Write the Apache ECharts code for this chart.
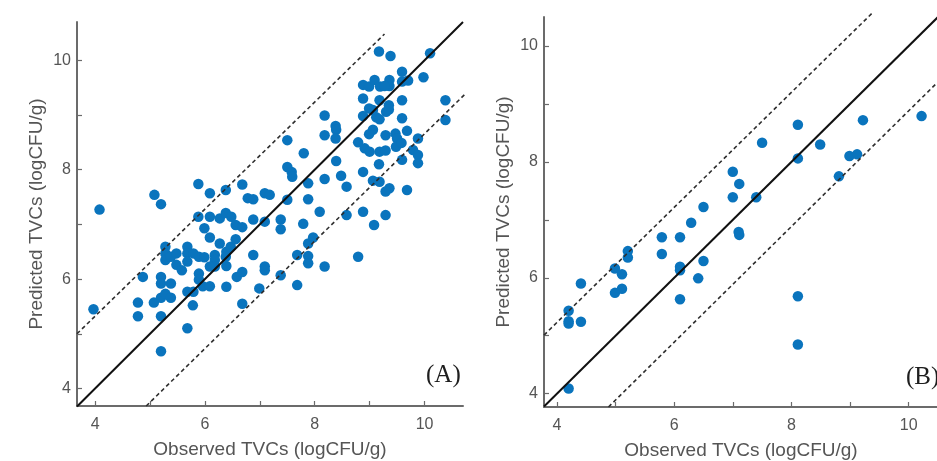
<!DOCTYPE html>
<html>
<head>
<meta charset="utf-8">
<script src="https://cdn.jsdelivr.net/npm/echarts@6/dist/echarts.min.js"></script>
<style>
  html, body { margin: 0; padding: 0; background: #ffffff; }
  #chart { width: 937px; height: 461px; }
</style>
</head>
<body>
<div id="chart"></div>
<script>
// Panel A: calibration set, observed vs predicted TVCs (logCFU/g)
const obsA = [
  3.97, 4.08, 4.78, 4.78, 4.87, 5.08, 5.20, 5.07, 5.20, 5.28,
  5.38, 5.20, 5.20, 5.20, 5.20, 5.38, 5.28, 5.28, 5.28, 5.38,
  5.48, 5.48, 5.58, 5.68, 5.68, 5.68, 5.79, 5.89, 5.68, 5.79,
  5.78, 5.68, 5.88, 5.88, 5.89, 5.89, 5.99, 5.99, 5.96, 6.09,
  6.09, 6.09, 6.09, 6.18, 6.18, 6.18, 6.27, 6.27, 6.38, 6.38,
  6.48, 6.39, 6.47, 6.38, 6.39, 6.39, 6.56, 6.68, 6.56, 6.58,
  6.68, 6.68, 6.68, 6.78, 6.88, 6.88, 6.88, 6.99, 7.09, 7.18,
  7.09, 7.09, 7.09, 7.38, 7.38, 7.38, 7.50, 7.50, 7.58, 7.59,
  7.50, 7.68, 7.68, 7.80, 7.79, 7.88, 7.88, 7.88, 7.97, 7.88,
  7.88, 8.09, 8.18, 8.18, 8.18, 8.18, 8.38, 8.39, 8.38, 8.39,
  8.48, 8.58, 8.58, 8.79, 8.91, 9.00, 8.79, 8.88, 8.99, 9.09,
  9.19, 9.36, 9.36, 9.59, 9.70, 9.17, 9.38, 10.10, 9.59, 9.98,
  8.88, 9.18, 9.59, 10.38, 8.99, 9.06, 9.35, 9.35, 9.30, 8.88,
  9.12, 9.18, 9.59, 10.38, 9.06, 8.99, 9.29, 9.47, 9.50, 9.68,
  9.88, 9.18, 9.29, 9.48, 9.58, 9.79, 9.88, 9.88, 9.59, 9.17,
  8.88, 9.06, 9.18, 9.36, 9.29, 9.68, 8.88, 9.29, 9.08, 9.27,
  6.09
];
const predA = [
  5.45, 7.27, 5.57, 5.32, 6.04, 7.54, 7.37, 5.57, 5.66, 5.73,
  5.66, 5.32, 4.68, 6.04, 5.92, 5.92, 6.59, 6.47, 6.35, 6.41,
  6.47, 6.26, 6.16, 6.59, 6.47, 6.32, 6.47, 6.41, 5.77, 5.77,
  5.52, 5.10, 7.74, 7.14, 6.10, 5.99, 6.93, 6.40, 5.87, 5.87,
  7.57, 7.14, 6.76, 6.44, 6.35, 6.23, 7.11, 6.65, 7.63, 7.21,
  7.14, 6.50, 6.59, 6.41, 6.24, 5.86, 6.99, 6.95, 6.73, 6.04,
  6.13, 7.73, 5.55, 7.48, 7.46, 7.09, 6.44, 5.83, 7.57, 7.54,
  7.05, 6.23, 6.16, 7.09, 6.91, 6.07, 8.54, 8.05, 7.96, 7.87,
  7.45, 6.44, 5.89, 8.30, 7.01, 7.75, 7.46, 6.65, 6.76, 6.42,
  6.29, 7.23, 8.99, 8.63, 7.83, 6.23, 8.80, 8.73, 8.57, 8.16,
  7.89, 7.69, 7.17, 8.50, 8.39, 8.33, 6.41, 9.55, 9.52, 9.64,
  9.52, 9.64, 9.53, 9.61, 9.63, 10.16, 10.08, 10.13, 9.79, 9.69,
  9.30, 9.27, 9.27, 9.27, 9.12, 9.09, 9.18, 9.10, 9.06, 8.98,
  8.96, 8.92, 8.94, 8.91, 8.73, 8.65, 8.63, 8.66, 8.57, 8.71,
  8.57, 8.33, 8.35, 8.42, 8.49, 8.36, 8.27, 8.12, 8.18, 8.10,
  7.96, 7.80, 7.78, 7.66, 7.60, 7.63, 7.23, 7.17, 6.99, 9.53,
  6.23
];

// Panel B: prediction set
const obsB = [
  4.20, 4.20, 4.20, 4.20, 4.41, 4.41, 4.99, 4.99, 5.11, 5.11,
  5.21, 5.21, 5.79, 5.79, 6.10, 6.10, 6.10, 6.10, 6.29, 6.41,
  6.50, 6.50, 7.00, 7.00, 7.11, 7.10, 7.11, 7.40, 7.50, 8.11,
  8.11, 8.11, 8.11, 8.49, 8.81, 8.99, 9.12, 9.22, 10.22
];
const predB = [
  4.09, 5.43, 5.25, 5.21, 5.24, 5.90, 6.16, 5.74, 6.06, 5.81,
  6.46, 6.35, 6.70, 6.41, 6.70, 6.19, 6.13, 5.63, 6.95, 5.99,
  7.22, 6.29, 7.39, 7.83, 7.62, 6.79, 6.74, 7.39, 8.33, 8.64,
  8.06, 5.68, 4.85, 8.30, 7.75, 8.10, 8.13, 8.72, 8.79
];

// Axis ranges and tick values
const xRangeA = [3.67, 10.7];
const yRangeA = [3.68, 10.7];
const xRangeB = [3.78, 10.5];
const yRangeB = [3.77, 10.5];
const tickValues = [4, 5, 6, 7, 8, 9, 10];
const labelValues = [4, 6, 8, 10];

// Error band lines (end points in data units)
const upperA = [[3.67, 5.0], [9.27, 10.48]];
const lowerA = [[4.93, 3.68], [10.95, 9.59]];
const upperB = [[3.78, 5.01], [9.38, 10.57]];
const lowerB = [[4.88, 3.77], [10.5, 9.38]];

const axisTitleX = 'Observed TVCs (logCFU/g)';
const axisTitleY = 'Predicted TVCs (logCFU/g)';
const panelLabels = ['(A)', '(B)'];

const pointColor = '#0a74bd';
const axisGray = '#6b6b6b';
const textGray = '#555555';
const sansFont = '"Liberation Sans", Arial, Helvetica, sans-serif';

function zip(xs, ys) {
  return xs.map((x, i) => [x, ys[i]]);
}

function makeAxis(kind, range, gridIndex) {
  const isX = kind === 'x';
  return {
    type: 'value',
    gridIndex: gridIndex,
    min: range[0],
    max: range[1],
    name: isX ? axisTitleX : axisTitleY,
    nameLocation: 'middle',
    nameGap: isX ? 34 : 31,
    nameTextStyle: { color: textGray, fontSize: 19, fontFamily: sansFont },
    axisLine: { show: true, onZero: false, lineStyle: { color: axisGray, width: 2 } },
    axisTick: {
      show: true, inside: true, length: 5,
      customValues: tickValues,
      lineStyle: { color: axisGray, width: 1.2 }
    },
    axisLabel: {
      show: true,
      customValues: labelValues,
      color: textGray,
      fontSize: 16,
      fontFamily: sansFont,
      margin: isX ? 11 : 6,
      formatter: v => String(v)
    },
    splitLine: { show: false }
  };
}

function refLine(data, xi, dashed) {
  return {
    type: 'line',
    xAxisIndex: xi,
    yAxisIndex: xi,
    data: data,
    symbol: 'none',
    silent: true,
    clip: false,
    z: 5,
    lineStyle: dashed
      ? { color: '#2e2e2e', width: 1.6, type: [4, 3] }
      : { color: '#111111', width: 2 }
  };
}

function scatter(xs, ys, xi) {
  return {
    type: 'scatter',
    xAxisIndex: xi,
    yAxisIndex: xi,
    data: zip(xs, ys),
    symbol: 'circle',
    symbolSize: 10.5,
    itemStyle: { color: pointColor, opacity: 1 },
    z: 2
  };
}

const chart = echarts.init(document.getElementById('chart'), null, { renderer: 'canvas' });

chart.setOption({
  backgroundColor: '#ffffff',
  animation: false,
  grid: [
    { left: 77, top: 22, right: 474, bottom: 55, containLabel: false, outerBoundsMode: 'none' },
    { left: 544, top: 17, right: -1, bottom: 54, containLabel: false, outerBoundsMode: 'none' }
  ],
  xAxis: [makeAxis('x', xRangeA, 0), makeAxis('x', xRangeB, 1)],
  yAxis: [makeAxis('y', yRangeA, 0), makeAxis('y', yRangeB, 1)],
  series: [
    scatter(obsA, predA, 0),
    scatter(obsB, predB, 1),
    refLine([[xRangeA[0], xRangeA[0]], [xRangeA[1], xRangeA[1]]], 0, false),
    refLine(upperA, 0, true),
    refLine(lowerA, 0, true),
    refLine([[xRangeB[0], xRangeB[0]], [xRangeB[1], xRangeB[1]]], 1, false),
    refLine(upperB, 1, true),
    refLine(lowerB, 1, true)
  ],
  graphic: [
    {
      type: 'text', x: 426, y: 375, z: 10,
      style: {
        text: panelLabels[0], fill: '#1e1e1e',
        font: '25px "Liberation Serif", "Times New Roman", serif',
        align: 'left', verticalAlign: 'middle'
      }
    },
    {
      type: 'text', x: 906, y: 377, z: 10,
      style: {
        text: panelLabels[1], fill: '#1e1e1e',
        font: '25px "Liberation Serif", "Times New Roman", serif',
        align: 'left', verticalAlign: 'middle'
      }
    }
  ]
});
</script>
</body>
</html>
